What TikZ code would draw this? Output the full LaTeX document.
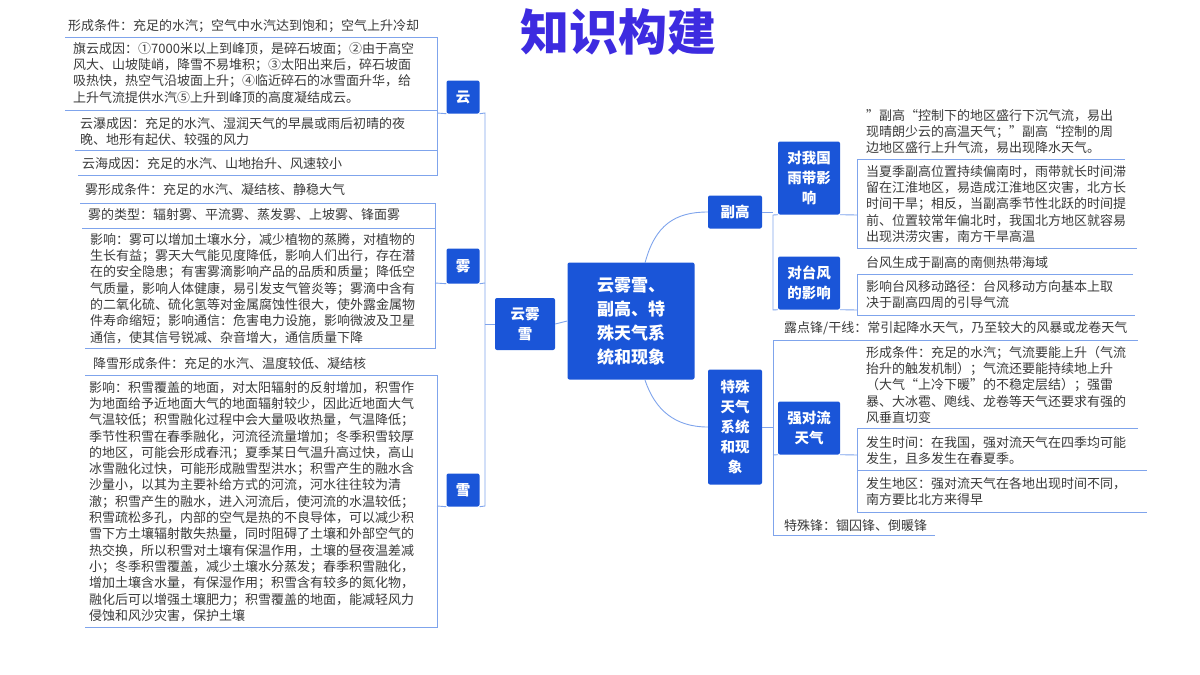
\documentclass[tikz,border=0pt]{standalone}
\usepackage{fontspec}
\setmainfont{Noto Sans CJK SC}
\definecolor{mmblue}{HTML}{1A55D8}
\definecolor{lnblue}{HTML}{7FA4EC}
\definecolor{txtgray}{HTML}{3A3A3A}
\definecolor{ttlblue}{HTML}{3D2BE0}
\tikzset{
  hub/.style={fill=mmblue, text=white, rounded corners=2pt, align=center, inner sep=1pt,
    font=\bfseries\fontsize{14.5}{20}\selectfont},
  leaf/.style={anchor=north west, align=left, text=txtgray, inner sep=0pt,
    font=\fontsize{13}{16.3}\selectfont},
  link/.style={draw=lnblue, line width=0.9pt},
}
\begin{document}
\begin{tikzpicture}[x=1pt,y=-1pt]
\useasboundingbox (0,0) rectangle (1200,675);

% title
\node[text=ttlblue, font=\bfseries\fontsize{49}{52}\selectfont] (title) at (618,32) {知识构建};

% centre and main branches
\node[hub, minimum width=127, minimum height=117, font=\bfseries\fontsize{17}{24}\selectfont] (centre) at (631,321) {云雾雪、\\副高、特\\殊天气系\\统和现象};
\node[hub, minimum width=60, minimum height=52] (yww) at (525,324) {云雾\\雪};
\node[hub, minimum width=33, minimum height=33] (yun) at (463,97) {云};
\node[hub, minimum width=33, minimum height=35] (wu) at (463,266) {雾};
\node[hub, minimum width=33, minimum height=33] (xue) at (463,490) {雪};
\node[hub, minimum width=54, minimum height=33] (fugao) at (735,212) {副高};
\node[hub, minimum width=54, minimum height=115] (teshu) at (735,427) {特殊\\天气\\系统\\和现\\象};
\node[hub, minimum width=62, minimum height=73] (yudai) at (809,178) {对我国\\雨带影\\响};
\node[hub, minimum width=62, minimum height=53] (taifeng) at (809,283) {对台风\\的影响};
\node[hub, minimum width=62, minimum height=53] (qiang) at (809,428) {强对流\\天气};

\draw[link] (centre.west) -- (yww.east);
\draw[link] (yww.west) -- (485,324);
\draw[link] (yun.south east) -- (485,113) -- (485,506) -- (xue.south east);
\draw[link] (wu.south east) -- (485,283);
\draw[link] (645,263) .. controls (655,225) and (675,212) .. (fugao.west);
\draw[link] (645,380) .. controls (655,410) and (675,427) .. (teshu.west);
\draw[link] (fugao.east) -- (773,212);
\draw[link] (yudai.south west) -- (773,215) -- (773,310) -- (taifeng.south west);
\draw[link] (teshu.east) -- (773,427);
\draw[link] (qiang.south west) -- (773,455);
\draw[link] (935,535) -- (773,535) -- (773,340) -- (1138,340);

% 云
\node[leaf] (y1) at (68,19) {形成条件：充足的水汽；空气中水汽达到饱和；空气上升冷却};
\node[leaf] (y2) at (73,42) {旗云成因：①7000米以上到峰顶，是碎石坡面；②由于高空\\风大、山坡陡峭，降雪不易堆积；③太阳出来后，碎石坡面\\吸热快，热空气沿坡面上升；④临近碎石的冰雪面升华，给\\上升气流提供水汽⑤上升到峰顶的高度凝结成云。};
\node[leaf] (y3) at (80,117) {云瀑成因：充足的水汽、湿润天气的早晨或雨后初晴的夜\\晚、地形有起伏、较强的风力};
\node[leaf] (y4) at (82,157) {云海成因：充足的水汽、山地抬升、风速较小};
\draw[link] (65,37) -- (437,37) -- (437,175) -- (78,175);
\draw[link] (65,110) -- (437,110);
\draw[link] (75,150) -- (437,150);
\draw[link] (yun.south west) -- (437,113);

% 雾
\node[leaf] (w1) at (85,183) {雾形成条件：充足的水汽、凝结核、静稳大气};
\node[leaf] (w2) at (88,208) {雾的类型：辐射雾、平流雾、蒸发雾、上坡雾、锋面雾};
\node[leaf] (w3) at (90,233) {影响：雾可以增加土壤水分，减少植物的蒸腾，对植物的\\生长有益；雾天大气能见度降低，影响人们出行，存在潜\\在的安全隐患；有害雾滴影响产品的品质和质量；降低空\\气质量，影响人体健康，易引发支气管炎等；雾滴中含有\\的二氧化硫、硫化氢等对金属腐蚀性很大，使外露金属物\\件寿命缩短；影响通信：危害电力设施，影响微波及卫星\\通信，使其信号锐减、杂音增大，通信质量下降};
\draw[link] (80,203) -- (435,203) -- (435,348) -- (85,348);
\draw[link] (82,228) -- (435,228);
\draw[link] (wu.south west) -- (435,283);

% 雪
\node[leaf] (x1) at (93,357) {降雪形成条件：充足的水汽、温度较低、凝结核};
\node[leaf] (x2) at (89,381) {影响：积雪覆盖的地面，对太阳辐射的反射增加，积雪作\\为地面给予近地面大气的地面辐射较少，因此近地面大气\\气温较低；积雪融化过程中会大量吸收热量，气温降低；\\季节性积雪在春季融化，河流径流量增加；冬季积雪较厚\\的地区，可能会形成春汛；夏季某日气温升高过快，高山\\冰雪融化过快，可能形成融雪型洪水；积雪产生的融水含\\沙量小，以其为主要补给方式的河流，河水往往较为清\\澈；积雪产生的融水，进入河流后，使河流的水温较低；\\积雪疏松多孔，内部的空气是热的不良导体，可以减少积\\雪下方土壤辐射散失热量，同时阻碍了土壤和外部空气的\\热交换，所以积雪对土壤有保温作用，土壤的昼夜温差减\\小；冬季积雪覆盖，减少土壤水分蒸发；春季积雪融化，\\增加土壤含水量，有保湿作用；积雪含有较多的氮化物，\\融化后可以增强土壤肥力；积雪覆盖的地面，能减轻风力\\侵蚀和风沙灾害，保护土壤};
\draw[link] (85,375) -- (437,375) -- (437,627) -- (85,627);
\draw[link] (xue.south west) -- (437,506);

% 副高
\node[leaf] (f1) at (866,109) {”副高“控制下的地区盛行下沉气流，易出\\现晴朗少云的高温天气；”副高“控制的周\\边地区盛行上升气流，易出现降水天气。};
\node[leaf] (f2) at (866,165) {当夏季副高位置持续偏南时，雨带就长时间滞\\留在江淮地区，易造成江淮地区灾害，北方长\\时间干旱；相反，当副高季节性北跃的时间提\\前、位置较常年偏北时，我国北方地区就容易\\出现洪涝灾害，南方干旱高温};
\draw[link] (yudai.south east) -- (857,215);
\draw[link] (1125,159) -- (857,159) -- (857,248) -- (1137,248);
\node[leaf] (t1) at (866,256) {台风生成于副高的南侧热带海域};
\node[leaf] (t2) at (866,280) {影响台风移动路径：台风移动方向基本上取\\决于副高四周的引导气流};
\draw[link] (taifeng.south east) -- (857,310);
\draw[link] (1133,274) -- (857,274) -- (857,315) -- (1135,315);

% 特殊天气
\node[leaf] (s0) at (784,321) {露点锋/干线：常引起降水天气，乃至较大的风暴或龙卷天气};
\node[leaf] (q1) at (866,346) {形成条件：充足的水汽；气流要能上升（气流\\抬升的触发机制）；气流还要能持续地上升\\（大气“上冷下暖”的不稳定层结）；强雷\\暴、大冰雹、飑线、龙卷等天气还要求有强的\\风垂直切变};
\node[leaf] (q2) at (866,436) {发生时间：在我国，强对流天气在四季均可能\\发生，且多发生在春夏季。};
\node[leaf] (q3) at (866,477) {发生地区：强对流天气在各地出现时间不同，\\南方要比北方来得早};
\draw[link] (qiang.south east) -- (857,455);
\draw[link] (1138,428) -- (857,428) -- (857,512) -- (1147,512);
\draw[link] (857,470) -- (1147,470);
\node[leaf] (s1) at (784,519) {特殊锋：锢囚锋、倒暖锋};
\end{tikzpicture}
\end{document}
